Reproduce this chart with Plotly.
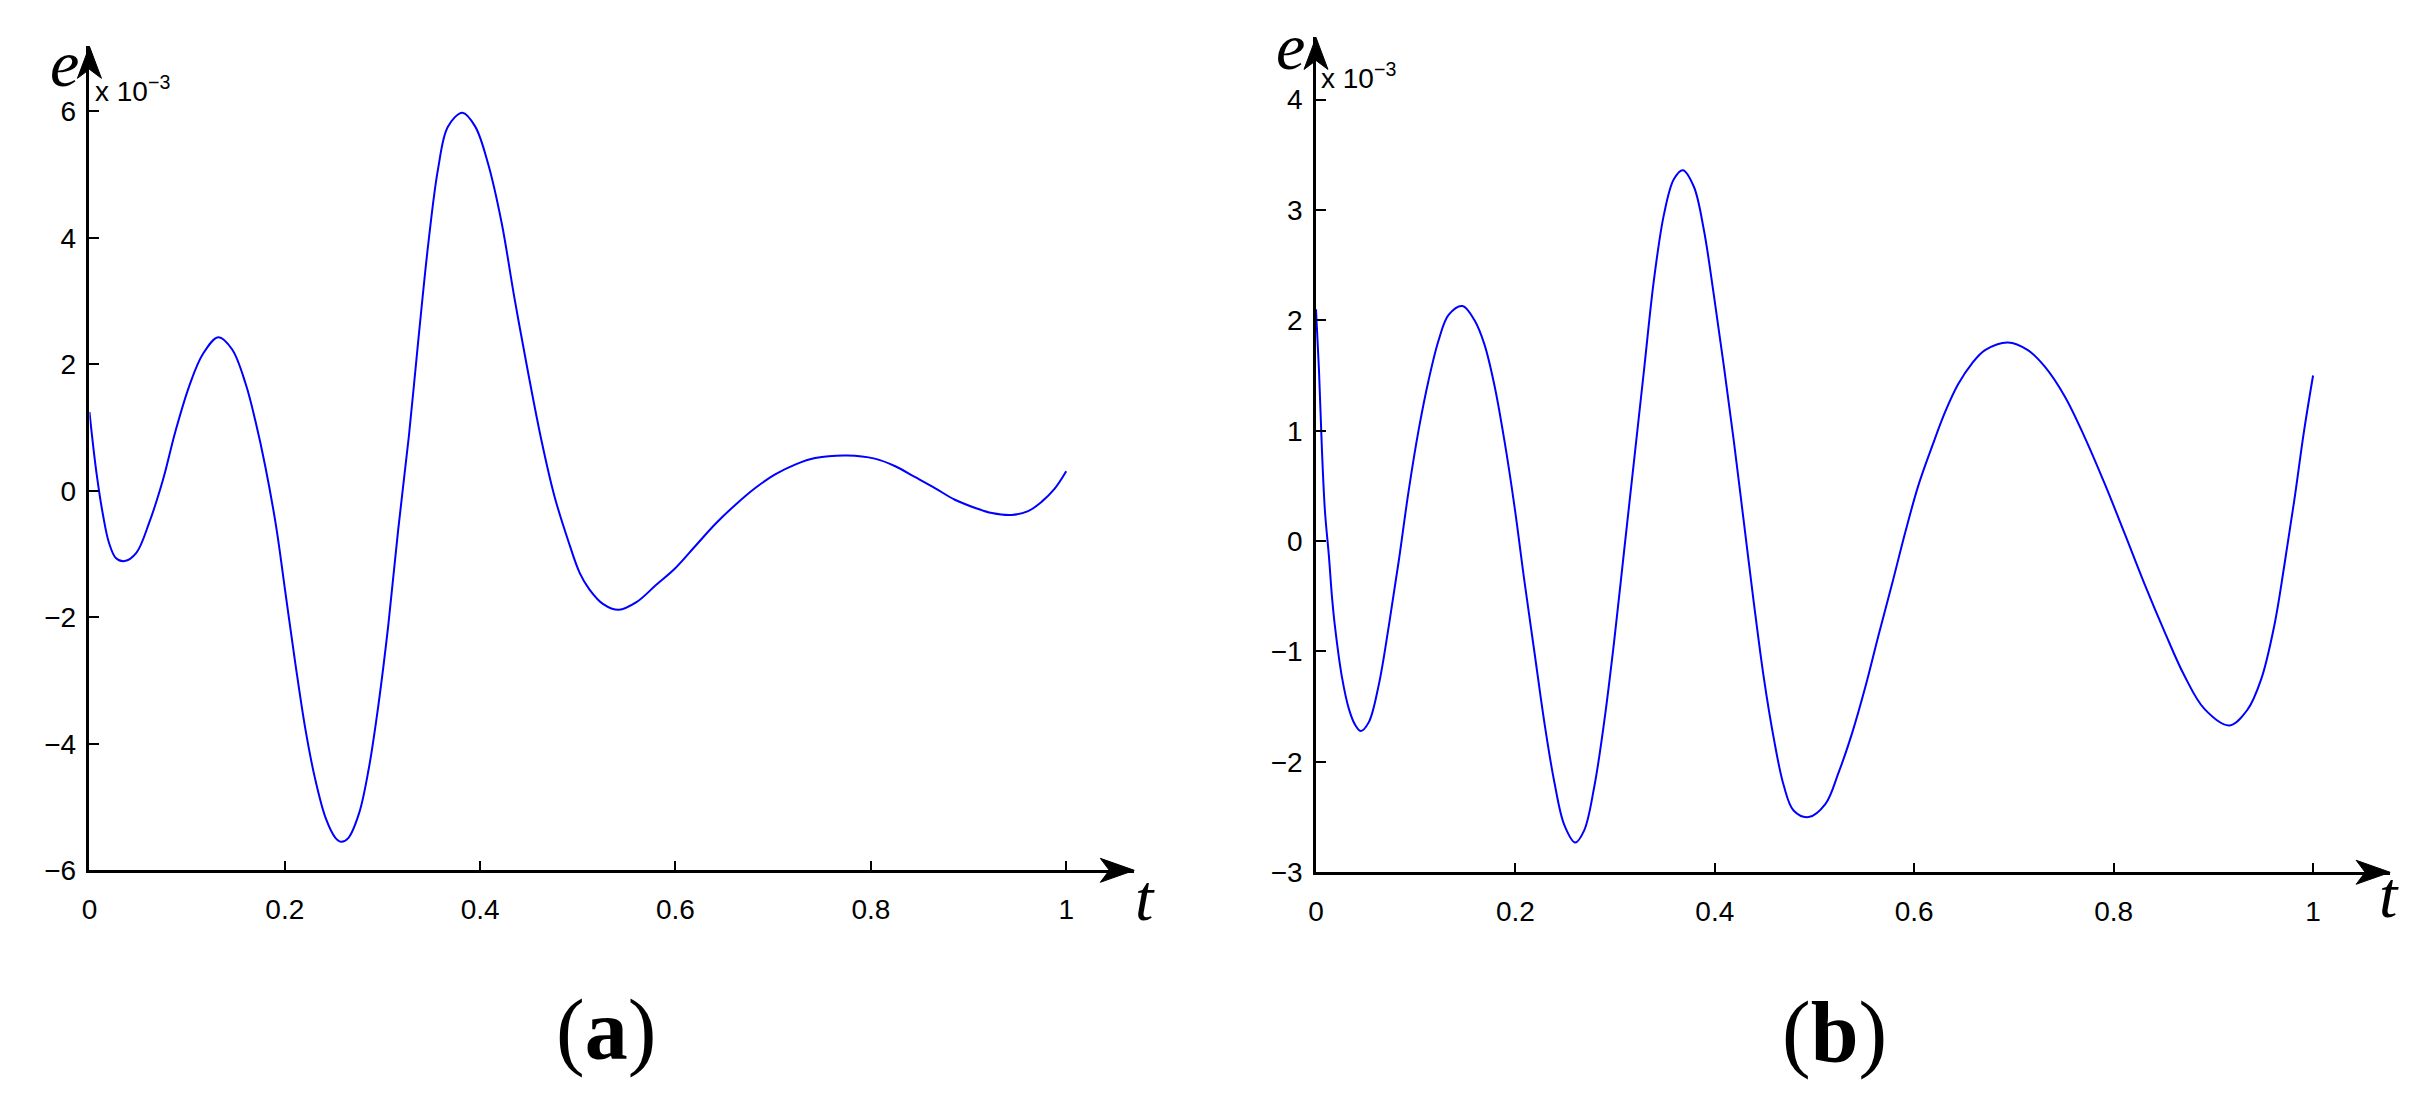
import plotly.graph_objects as go

W, H = 2433, 1113

# panel (a): error e (in units of 1e-3) versus t
t_a = [0, 0.007, 0.014, 0.020, 0.027, 0.036, 0.048, 0.061, 0.075, 0.088,
       0.102, 0.116, 0.132, 0.146, 0.160, 0.170, 0.180, 0.191, 0.201, 0.211,
       0.221, 0.231, 0.242, 0.252, 0.258, 0.265, 0.276, 0.286, 0.296, 0.306,
       0.316, 0.327, 0.337, 0.347, 0.357, 0.367, 0.382, 0.395, 0.408, 0.422,
       0.435, 0.449, 0.463, 0.476, 0.490, 0.502, 0.512, 0.526, 0.542, 0.560,
       0.580, 0.600, 0.621, 0.641, 0.662, 0.682, 0.702, 0.723, 0.743, 0.776,
       0.804, 0.825, 0.845, 0.866, 0.886, 0.907, 0.924, 0.944, 0.961, 0.975,
       0.988, 1.0]
e_a = [1.25, 0.31, -0.39, -0.82, -1.06, -1.11, -0.98, -0.51, 0.16, 0.94,
       1.65, 2.16, 2.43, 2.24, 1.69, 1.10, 0.39, -0.55, -1.65, -2.75,
       -3.76, -4.55, -5.18, -5.49, -5.55, -5.49, -5.10, -4.39, -3.37, -2.12,
       -0.63, 0.86, 2.43, 3.92, 5.10, 5.76, 5.98, 5.76, 5.18, 4.24,
       3.06, 1.88, 0.78, -0.08, -0.78, -1.30, -1.56, -1.79, -1.88, -1.76,
       -1.49, -1.22, -0.86, -0.52, -0.21, 0.05, 0.26, 0.42, 0.52, 0.56,
       0.51, 0.39, 0.22, 0.04, -0.14, -0.27, -0.35, -0.38, -0.32, -0.17,
       0.03, 0.31]

# panel (b)
t_b = [0, 0.003, 0.006, 0.009, 0.013, 0.016, 0.019, 0.026, 0.033, 0.039,
       0.045, 0.053, 0.063, 0.073, 0.083, 0.093, 0.103, 0.113, 0.123, 0.133,
       0.147, 0.159, 0.169, 0.179, 0.189, 0.199, 0.209, 0.219, 0.229, 0.239,
       0.249, 0.260, 0.269, 0.279, 0.289, 0.299, 0.309, 0.319, 0.329, 0.339,
       0.349, 0.359, 0.368, 0.379, 0.389, 0.399, 0.409, 0.419, 0.429, 0.439,
       0.449, 0.459, 0.469, 0.479, 0.494, 0.511, 0.524, 0.538, 0.551, 0.564,
       0.578, 0.591, 0.604, 0.618, 0.631, 0.644, 0.658, 0.671, 0.694, 0.714,
       0.731, 0.751, 0.771, 0.791, 0.811, 0.831, 0.851, 0.871, 0.891, 0.916,
       0.934, 0.948, 0.961, 0.971, 0.981, 0.991, 1.0]
e_b = [2.10, 1.55, 0.82, 0.27, -0.14, -0.50, -0.77, -1.23, -1.52, -1.66,
       -1.72, -1.64, -1.30, -0.77, -0.18, 0.46, 1.01, 1.46, 1.82, 2.05,
       2.13, 2.00, 1.78, 1.41, 0.91, 0.32, -0.36, -1.00, -1.64, -2.18,
       -2.57, -2.73, -2.62, -2.23, -1.64, -0.91, -0.09, 0.73, 1.55, 2.37,
       2.96, 3.28, 3.36, 3.21, 2.82, 2.23, 1.59, 0.91, 0.18, -0.55,
       -1.23, -1.78, -2.21, -2.44, -2.50, -2.38, -2.10, -1.73, -1.32, -0.86,
       -0.38, 0.08, 0.50, 0.86, 1.17, 1.42, 1.61, 1.73, 1.80, 1.73,
       1.58, 1.31, 0.94, 0.52, 0.07, -0.39, -0.82, -1.22, -1.52, -1.67,
       -1.53, -1.25, -0.77, -0.23, 0.36, 1.00, 1.50]

x_ticks = [0, 0.2, 0.4, 0.6, 0.8, 1]
x_labels = ["0", "0.2", "0.4", "0.6", "0.8", "1"]
y_ticks_a = [-6, -4, -2, 0, 2, 4, 6]
y_ticks_b = [-3, -2, -1, 0, 1, 2, 3, 4]


def fx(px):
    return px / W


def fy(py):
    return 1 - py / H


# plot boxes in pixels: left, right (arrow tip), bottom, top (arrow tip)
box_a = (81.7, 1130, 883, 47)
box_b = (1312.3, 2390, 885, 38)

fig = go.Figure()
fig.add_trace(go.Scatter(x=t_a, y=e_a, mode="lines", xaxis="x", yaxis="y",
                         line=dict(color="#0000ff", width=2, shape="spline")))
fig.add_trace(go.Scatter(x=t_b, y=e_b, mode="lines", xaxis="x2", yaxis="y2",
                         line=dict(color="#0000ff", width=2, shape="spline")))

axis_style = dict(showgrid=False, zeroline=False, showline=True, linecolor="black",
                  linewidth=2.5, ticks="inside", ticklen=10, tickwidth=2, tickcolor="black",
                  tickfont=dict(family="Liberation Sans, Arial", size=28, color="black"))

fig.update_layout(
    width=W, height=H, margin=dict(l=0, r=0, t=0, b=0),
    paper_bgcolor="white", plot_bgcolor="white", showlegend=False,
    xaxis=dict(domain=[fx(box_a[0]), fx(box_a[1])], range=[0, 1.0697], anchor="y",
               tickvals=x_ticks, ticktext=x_labels, ticklabelstandoff=12, **axis_style),
    yaxis=dict(domain=[fy(box_a[2]), fy(box_a[3])], range=[-6, 7.03], anchor="x",
               tickvals=y_ticks_a, ticklabelstandoff=5, **axis_style),
    xaxis2=dict(domain=[fx(box_b[0]), fx(box_b[1])], range=[0, 1.0773], anchor="y2",
                tickvals=x_ticks, ticktext=x_labels, ticklabelstandoff=12, **axis_style),
    yaxis2=dict(domain=[fy(box_b[2]), fy(box_b[3])], range=[-3, 4.5625], anchor="x2",
                tickvals=y_ticks_b, ticklabelstandoff=5, **axis_style),
)

# arrow heads at the ends of the axes (paper refs so they are not clipped)
for left, right, bottom, top in [box_a, box_b]:
    fig.add_shape(type="path", xref="paper", yref="paper", xsizemode="pixel", ysizemode="pixel",
                  xanchor=fx(right), yanchor=fy(bottom), path="M0,0 L-34,12 L-25,0 L-34,-12 Z",
                  fillcolor="black", line=dict(color="black", width=1))
    fig.add_shape(type="path", xref="paper", yref="paper", xsizemode="pixel", ysizemode="pixel",
                  xanchor=fx(left), yanchor=fy(top), path="M0,0 L-12,-32 L0,-23 L12,-32 Z",
                  fillcolor="black", line=dict(color="black", width=1))

serif = "Liberation Serif, Times New Roman"
sans = "Liberation Sans, Arial"
labels = [
    ("<i>e</i>", 57, 64, serif, 66, "center"),
    ("<i>t</i>", 1141, 911, serif, 66, "center"),
    ("<i>e</i>", 1287, 47, serif, 66, "center"),
    ("<i>t</i>", 2388.5, 908, serif, 66, "center"),
    ("x 10<sup>\u22123</sup>", 85, 90, sans, 28, "left"),
    ("x 10<sup>\u22123</sup>", 1315, 77, sans, 28, "left"),
    ("(<b>a</b>)", 600, 1045, serif, 86, "center"),
    ("(<b>b</b>)", 1833, 1047, serif, 86, "center"),
]
for text, px, py, fam, size, xa in labels:
    fig.add_annotation(text=text, x=fx(px), y=fy(py), xref="paper", yref="paper",
                       xanchor=xa, yanchor="middle", showarrow=False,
                       font=dict(family=fam, size=size, color="black"))

fig.write_html("out.html", config={"displayModeBar": False},
               post_script="document.body.style.margin='0';document.body.style.overflow='hidden';")
